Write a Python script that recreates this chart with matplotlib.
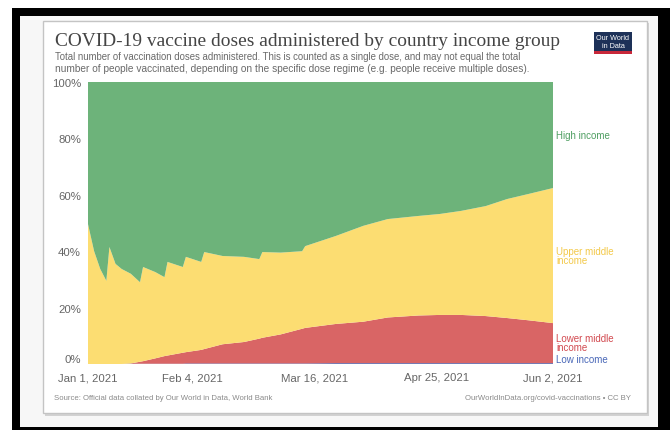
import matplotlib
matplotlib.use("Agg")
import matplotlib.pyplot as plt
from matplotlib.patches import Rectangle
from matplotlib.ticker import FuncFormatter
import datetime as dt

# Share of all vaccine doses administered, by World Bank income group (%)
dates = ["2021-01-01", "2021-01-03", "2021-01-05", "2021-01-07", "2021-01-08",
         "2021-01-10", "2021-01-12", "2021-01-15", "2021-01-18", "2021-01-19",
         "2021-01-23", "2021-01-26", "2021-01-27", "2021-02-01", "2021-02-02",
         "2021-02-07", "2021-02-08", "2021-02-14", "2021-02-21", "2021-02-26",
         "2021-02-27", "2021-03-05", "2021-03-12", "2021-03-13", "2021-03-23",
         "2021-04-01", "2021-04-09", "2021-04-19", "2021-04-26", "2021-05-03",
         "2021-05-11", "2021-05-18", "2021-05-25", "2021-06-02"]

low_income = [0, 0, 0, 0, 0, 0, 0, 0.1, 0.1, 0.1,
              0.1, 0.1, 0.1, 0.1, 0.2, 0.2, 0.2, 0.2, 0.2, 0.2,
              0.2, 0.2, 0.2, 0.2, 0.3, 0.3, 0.3, 0.3, 0.3, 0.3,
              0.3, 0.3, 0.3, 0.3]
lower_middle_income = [0, 0, 0, 0, 0, 0, 0, 0.1, 0.7, 0.9,
                       1.9, 2.7, 2.9, 3.9, 4.0, 4.8, 5.1, 6.8, 7.6, 8.8,
                       9.1, 10.3, 12.3, 12.6, 13.9, 14.7, 16.2, 16.9, 17.1, 17.1,
                       16.7, 16.0, 15.2, 14.2]
upper_middle_income = [49.6, 40.0, 33.7, 29.5, 41.5, 35.5, 33.7, 31.8, 28.2, 33.4,
                       30.6, 28.0, 33.2, 30.4, 33.8, 31.2, 34.4, 31.3, 30.2, 28.2,
                       30.4, 29.0, 27.5, 29.0, 31.2, 34.0, 34.9, 35.3, 35.8, 36.9,
                       39.0, 42.2, 44.8, 47.9]
high_income = [50.4, 60.0, 66.3, 70.5, 58.5, 64.5, 66.3, 68.0, 71.0, 65.6,
               67.4, 69.2, 63.8, 65.6, 62.0, 63.8, 60.3, 61.7, 62.0, 62.8,
               60.3, 60.5, 60.0, 58.2, 54.6, 51.0, 48.6, 47.5, 46.8, 45.7,
               44.0, 41.5, 39.7, 37.6]

groups = ["Low income", "Lower middle\nincome", "Upper middle\nincome", "High income"]
fill_colors = ["#4a68b8", "#d96565", "#fcdd72", "#6db37a"]
label_colors = ["#4a68b8", "#d24a50", "#f3c94a", "#4f9f62"]

tick_dates = ["2021-01-01", "2021-02-04", "2021-03-16", "2021-04-25", "2021-06-02"]
tick_labels = ["Jan 1, 2021", "Feb 4, 2021", "Mar 16, 2021", "Apr 25, 2021", "Jun 2, 2021"]

W, H = 670, 431
fig = plt.figure(figsize=(W / 100, H / 100), dpi=100)
fig.patch.set_facecolor("white")

# page chrome drawn in pixel coordinates
bg = fig.add_axes([0, 0, 1, 1], zorder=-5)
bg.set_xlim(0, W)
bg.set_ylim(H, 0)
bg.axis("off")
bg.add_patch(Rectangle((12, 9), W - 12, H - 9, facecolor="black", edgecolor="none"))
bg.add_patch(Rectangle((20, 17), 638, 411, facecolor="#f7f7f7", edgecolor="none"))
bg.add_patch(Rectangle((45, 24), 604, 393, facecolor="#d2d2d2", edgecolor="none"))
bg.add_patch(Rectangle((43, 22), 604, 392, facecolor="white", edgecolor="#c4c4c4", linewidth=1.0))

renderer = fig.canvas.get_renderer()


def fitted_text(ax, x, y, s, width_px, **kw):
    t = ax.text(x, y, s, **kw)
    w = t.get_window_extent(renderer=renderer).width
    t.set_fontsize(t.get_fontsize() * width_px / w)
    return t


fitted_text(bg, 55, 46, "COVID-19 vaccine doses administered by country income group", 504,
            fontsize=16, family="Liberation Serif", color="#444444", va="baseline")
fitted_text(bg, 55, 57.5, "Total number of vaccination doses administered. This is counted as a single dose, and may not equal the total",
            466, fontsize=7, family="Liberation Sans", color="#6a6a6a", va="center")
fitted_text(bg, 55, 68.5, "number of people vaccinated, depending on the specific dose regime (e.g. people receive multiple doses).",
            476, fontsize=7, family="Liberation Sans", color="#6a6a6a", va="center")

# logo
bg.add_patch(Rectangle((594, 33), 38, 19, facecolor="#1d3158", edgecolor="none"))
bg.add_patch(Rectangle((594, 52), 38, 3, facecolor="#c8283a", edgecolor="none"))
bg.text(613, 38.5, "Our World", fontsize=5.2, family="Liberation Sans", color="white",
        ha="center", va="center")
bg.text(613, 46, "in Data", fontsize=5.2, family="Liberation Sans", color="white",
        ha="center", va="center")

bg.text(54, 399, "Source: Official data collated by Our World in Data, World Bank",
        fontsize=5.6, family="Liberation Sans", color="#8a8a8a", va="center")
bg.text(631, 399, "OurWorldInData.org/covid-vaccinations \u2022 CC BY",
        fontsize=5.6, family="Liberation Sans", color="#8a8a8a", va="center", ha="right")

# stacked share chart
x0, x1, y_top, y_bot = 88, 553, 83, 365
ax = fig.add_axes([x0 / W, (H - y_bot) / H, (x1 - x0) / W, (y_bot - y_top) / H])
x = [dt.date.fromisoformat(d) for d in dates]
series = [low_income, lower_middle_income, upper_middle_income, high_income]
ax.stackplot(x, *series, colors=fill_colors, linewidth=0)
ax.set_xlim(x[0], x[-1])
ax.set_ylim(0, 100)
for s in ax.spines.values():
    s.set_visible(False)
ax.set_facecolor("white")

ax.set_yticks([0, 20, 40, 60, 80, 100])
ax.yaxis.set_major_formatter(FuncFormatter(lambda v, p: f"{v:.0f}%"))
ax.set_xticks([dt.date.fromisoformat(d) for d in tick_dates])
ax.set_xticklabels(tick_labels)
ax.tick_params(axis="both", length=0, colors="#666666", labelsize=8.2)
ax.tick_params(axis="y", pad=5)
ax.tick_params(axis="x", pad=6)
for lab in ax.get_xticklabels() + ax.get_yticklabels():
    lab.set_family("Liberation Sans")
# lift the 0% label slightly off the baseline
ax.get_yticklabels()[0].set_verticalalignment("bottom")

# group labels on the right
label_y = [360, 343.5, 256.5, 136]
for name, col, yy in zip(groups, label_colors, label_y):
    bg.text(556, yy, name, fontsize=7.0, family="Liberation Sans", color=col,
            va="center", ha="left", linespacing=0.95)

fig.savefig("out.png", dpi=100)
